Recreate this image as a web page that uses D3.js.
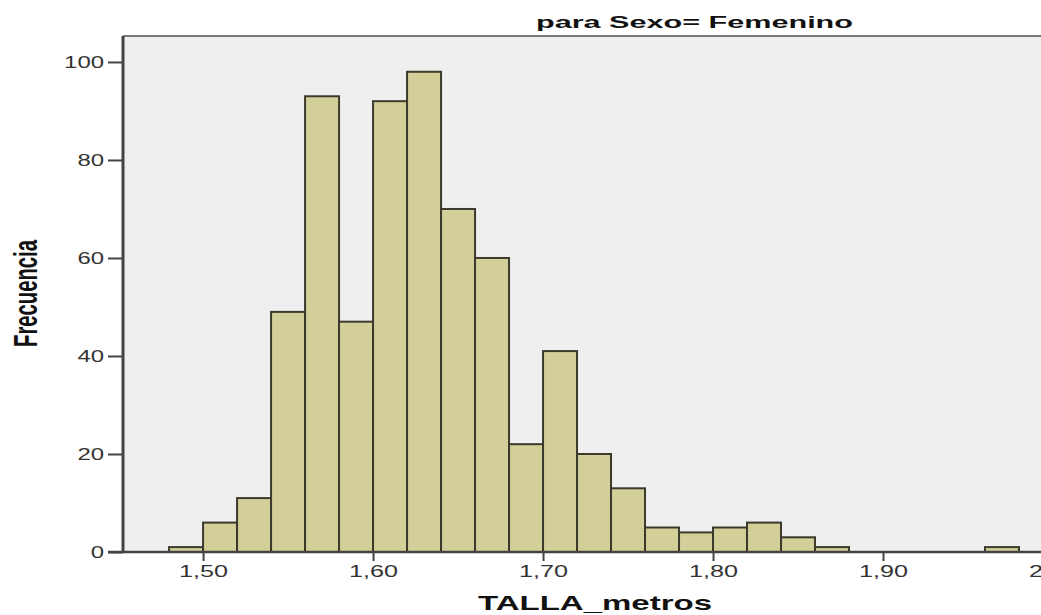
<!DOCTYPE html>
<html>
<head>
<meta charset="utf-8">
<script src="https://cdn.jsdelivr.net/npm/d3@7"></script>
<style>
  html, body { margin: 0; padding: 0; background: #ffffff; overflow: hidden; }
  svg { display: block; }
</style>
</head>
<body>
<svg id="chart" width="1041" height="615"></svg>
<script>
// ---- data ----
const binStarts = [1.48, 1.50, 1.52, 1.54, 1.56, 1.58, 1.60, 1.62, 1.64, 1.66, 1.68, 1.70, 1.72, 1.74, 1.76, 1.78, 1.80, 1.82, 1.84, 1.86, 1.88, 1.90, 1.92, 1.94, 1.96];
const frequencies = [1, 6, 11, 49, 93, 47, 92, 98, 70, 60, 22, 41, 20, 13, 5, 4, 5, 6, 3, 1, 0, 0, 0, 0, 1];
const binWidth = 0.02;
const xTicks = [1.50, 1.60, 1.70, 1.80, 1.90, 2.00];
const yTicks = [0, 20, 40, 60, 80, 100];
const titleText = "para Sexo= Femenino";
const xLabel = "TALLA_metros";
const yLabel = "Frecuencia";

(function () {
// ---- layout ----
const svg = d3.select("#chart");
const pLeft = 123, pTop = 36, pBottom = 552, pRight = 1070;

const x = d3.scaleLinear().domain([1.4529, 2.01]).range([pLeft, pRight]);
const y = d3.scaleLinear().domain([0, 105.3]).range([pBottom, pTop]);

// plot background
svg.append("rect")
  .attr("x", pLeft).attr("y", pTop)
  .attr("width", pRight - pLeft).attr("height", pBottom - pTop)
  .attr("fill", "#efefef");

// top border
svg.append("line")
  .attr("x1", pLeft).attr("x2", pRight)
  .attr("y1", pTop).attr("y2", pTop)
  .attr("stroke", "#7a7a7a").attr("stroke-width", 2);

// bars
const bins = binStarts.map((s, i) => ({ start: s, value: frequencies[i] })).filter(d => d.value > 0);
svg.append("g").selectAll("rect")
  .data(bins)
  .join("rect")
  .attr("x", d => x(d.start))
  .attr("y", d => y(d.value))
  .attr("width", d => x(d.start + binWidth) - x(d.start))
  .attr("height", d => y(0) - y(d.value))
  .attr("fill", "#d3cf99")
  .attr("stroke", "#3b3a2c")
  .attr("stroke-width", 2);

// y axis
const yAxis = svg.append("g")
  .attr("transform", `translate(${pLeft},0)`)
  .call(d3.axisLeft(y).tickValues(yTicks).tickSize(15).tickPadding(4).tickFormat(d3.format("d")));
yAxis.select(".domain").attr("stroke", "#444").attr("stroke-width", 3)
  .attr("d", `M0,${pTop}V${pBottom}`);
yAxis.selectAll(".tick line").attr("stroke", "#444").attr("stroke-width", 2);
yAxis.selectAll(".tick text")
  .attr("font-family", "Liberation Sans, Arial, sans-serif")
  .attr("font-size", 16)
  .attr("fill", "#333")
  .attr("dy", "0.36em")
  .each(function(d) {
    const n = String(d).length;
    d3.select(this).attr("textLength", n * 13.3).attr("lengthAdjust", "spacingAndGlyphs");
  });

// x axis
const xAxis = svg.append("g")
  .attr("transform", `translate(0,${pBottom})`)
  .call(d3.axisBottom(x).tickValues(xTicks).tickSize(9).tickPadding(5)
    .tickFormat(d => d3.format(".2f")(d).replace(".", ",")));
xAxis.select(".domain").attr("stroke", "#444").attr("stroke-width", 2.5)
  .attr("d", `M${pLeft - 15},0H${pRight}`);
xAxis.selectAll(".tick line").attr("stroke", "#444").attr("stroke-width", 2);
xAxis.selectAll(".tick text")
  .attr("font-family", "Liberation Sans, Arial, sans-serif")
  .attr("font-size", 16)
  .attr("fill", "#333")
  .attr("textLength", 49)
  .attr("lengthAdjust", "spacingAndGlyphs");

// title
svg.append("text")
  .attr("x", 536).attr("y", 28)
  .attr("font-family", "Liberation Sans, Arial, sans-serif")
  .attr("font-weight", "bold")
  .attr("font-size", 16)
  .attr("fill", "#111")
  .attr("textLength", 317)
  .attr("lengthAdjust", "spacingAndGlyphs")
  .text(titleText);

// x label
svg.append("text")
  .attr("x", 478).attr("y", 610)
  .attr("font-family", "Liberation Sans, Arial, sans-serif")
  .attr("font-weight", "bold")
  .attr("font-size", 21)
  .attr("fill", "#111")
  .attr("textLength", 234)
  .attr("lengthAdjust", "spacingAndGlyphs")
  .text(xLabel);

// y label
svg.append("text")
  .attr("transform", "translate(37,347) rotate(-90)")
  .attr("font-family", "Liberation Sans Narrow, Arial Narrow, Liberation Sans, sans-serif")
  .attr("font-weight", "bold")
  .attr("font-size", 34)
  .attr("fill", "#111")
  .attr("textLength", 107)
  .attr("lengthAdjust", "spacingAndGlyphs")
  .text(yLabel);
})();
</script>
</body>
</html>
